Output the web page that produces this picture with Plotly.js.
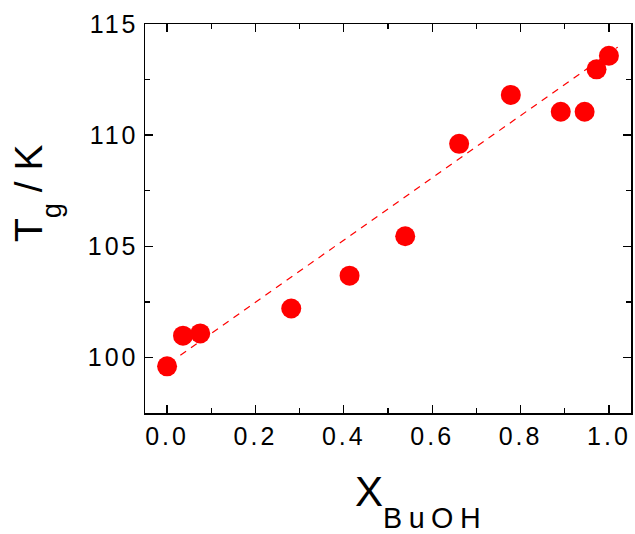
<!DOCTYPE html>
<html>
<head>
<meta charset="utf-8">
<script src="https://cdn.plot.ly/plotly-3.0.1.min.js"></script>
<style>
  html, body { margin: 0; padding: 0; background: #fff; }
  #chart { width: 635px; height: 534px; }
  .xtick text, .ytick text { letter-spacing: 3px; }
</style>
</head>
<body>
<div id="chart"></div>
<script>
// Glass transition temperature of the mixture vs. butanol mole fraction
const xBuOH = [0.0, 0.036, 0.075, 0.281, 0.413, 0.539, 0.661, 0.778, 0.891, 0.945, 0.972, 1.0];
const tgK   = [99.6, 100.98, 101.08, 102.2, 103.68, 105.45, 109.61, 111.81, 111.05, 111.05, 112.96, 113.57];

// Linear fit (dashed guide line) end points
const fitX = [0.03, 1.02];
const fitY = [100.1, 113.96];

// Tick positions and labels
const xTickVals = [0.0, 0.2, 0.4, 0.6, 0.8, 1.0];
const xTickText = ['0.0', '0.2', '0.4', '0.6', '0.8', '1.0'];
const yTickVals = [100, 105, 110, 115];
const yTickText = ['100', '105', '110', '115'];

const FONT = 'Liberation Sans, Arial, Helvetica, sans-serif';
const W = 635, H = 534;
const M = { l: 145, r: 4, t: 24, b: 121 };
const plotW = W - M.l - M.r, plotH = H - M.t - M.b;

// paper-coordinate helpers for the title annotations
const px2paperX = px => (px - M.l) / plotW;
const px2paperY = py => (H - M.b - py) / plotH;

const traces = [
  {
    x: fitX, y: fitY,
    type: 'scatter', mode: 'lines',
    line: { color: '#ff0000', width: 1.2, dash: '7px,6px' },
    hoverinfo: 'skip', showlegend: false
  },
  {
    x: xBuOH, y: tgK,
    type: 'scatter', mode: 'markers',
    marker: { symbol: 'circle', size: 20, color: '#ff0000', line: { width: 0 } },
    showlegend: false
  }
];

const axisCommon = {
  showline: true, linecolor: '#000', linewidth: 1.5, mirror: 'allticks',
  ticks: 'inside', ticklen: 8, tickwidth: 1.3, tickcolor: '#000',
  tickmode: 'array',
  tickfont: { family: FONT, size: 25, color: '#000' },
  showgrid: false, zeroline: false
};

const layout = {
  width: W, height: H,
  margin: M,
  paper_bgcolor: '#fff', plot_bgcolor: '#fff',
  showlegend: false,
  xaxis: Object.assign({}, axisCommon, {
    range: [-0.05, 1.05],
    tickvals: xTickVals, ticktext: xTickText,
    minor: { ticks: 'inside', ticklen: 5, tickwidth: 1.3, tickcolor: '#000',
             tickmode: 'linear', tick0: 0, dtick: 0.1, showgrid: false }
  }),
  yaxis: Object.assign({}, axisCommon, {
    range: [97.5, 115],
    tickvals: yTickVals, ticktext: yTickText,
    minor: { ticks: 'inside', ticklen: 5, tickwidth: 1.3, tickcolor: '#000',
             tickmode: 'linear', tick0: 97.5, dtick: 2.5, showgrid: false }
  }),
  annotations: [
    {
      xref: 'paper', yref: 'paper',
      x: px2paperX(353), xanchor: 'left',
      y: px2paperY(466), yanchor: 'top',
      showarrow: false,
      font: { family: FONT, size: 42, color: '#000' },
      text: 'X<span style="font-size:28.7px;baseline-shift:-21.7px;letter-spacing:6.5px">BuOH</span>'
    },
    {
      xref: 'paper', yref: 'paper',
      x: px2paperX(5), xanchor: 'left',
      y: px2paperY(244), yanchor: 'bottom',
      textangle: -90,
      showarrow: false,
      font: { family: FONT, size: 39, color: '#000' },
      text: 'T<span style="font-size:27.3px;baseline-shift:-19px">g</span> / K'
    }
  ]
};

Plotly.newPlot('chart', traces, layout, { displayModeBar: false, staticPlot: true });
</script>
</body>
</html>
